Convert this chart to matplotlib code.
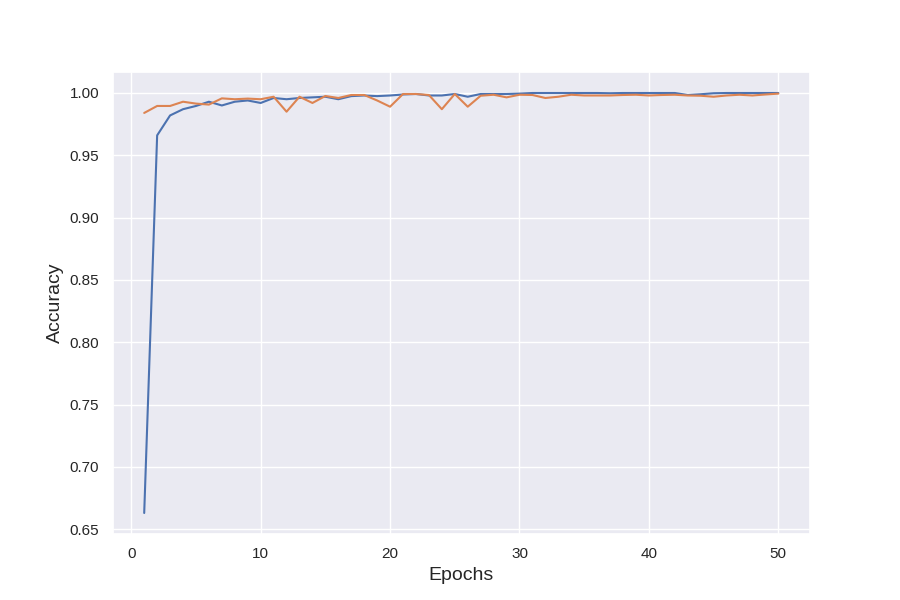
import numpy as np
import matplotlib
matplotlib.use('Agg')
import matplotlib.pyplot as plt
import seaborn as sns

sns.set_theme()
plt.rcParams['font.family'] = ['Liberation Sans', 'DejaVu Sans']

epochs = np.arange(1, 51)
train_acc = [0.663, 0.966, 0.982, 0.987, 0.9896, 0.993, 0.990, 0.993, 0.994, 0.992,
             0.996, 0.995, 0.996, 0.9965, 0.997, 0.995, 0.9975, 0.998, 0.9975, 0.998,
             0.9988, 0.9992, 0.998, 0.998, 0.9992, 0.997, 0.9992, 0.9992, 0.9992, 0.9995,
             1.0, 1.0, 1.0, 1.0, 1.0, 1.0, 0.9998, 1.0, 1.0, 1.0,
             1.0, 1.0, 0.9984, 0.999, 0.9998, 1.0, 1.0, 1.0, 1.0, 1.0]
val_acc = [0.984, 0.9896, 0.9896, 0.993, 0.9915, 0.9907, 0.9957, 0.995, 0.9955, 0.995,
           0.997, 0.985, 0.997, 0.992, 0.9976, 0.996, 0.9984, 0.9984, 0.994, 0.989,
           0.9992, 0.9992, 0.9984, 0.987, 0.9992, 0.989, 0.9978, 0.9986, 0.9965, 0.9986,
           0.9984, 0.996, 0.997, 0.9986, 0.998, 0.998, 0.998, 0.9984, 0.9986, 0.998,
           0.9984, 0.9986, 0.998, 0.9978, 0.997, 0.998, 0.9986, 0.998, 0.9988, 0.9995]

fig = plt.figure(figsize=(9, 6), dpi=100)
plt.plot(epochs, train_acc)
plt.plot(epochs, val_acc)
plt.xlabel('Epochs', fontsize=14)
plt.ylabel('Accuracy', fontsize=14)
plt.savefig('out.png')
